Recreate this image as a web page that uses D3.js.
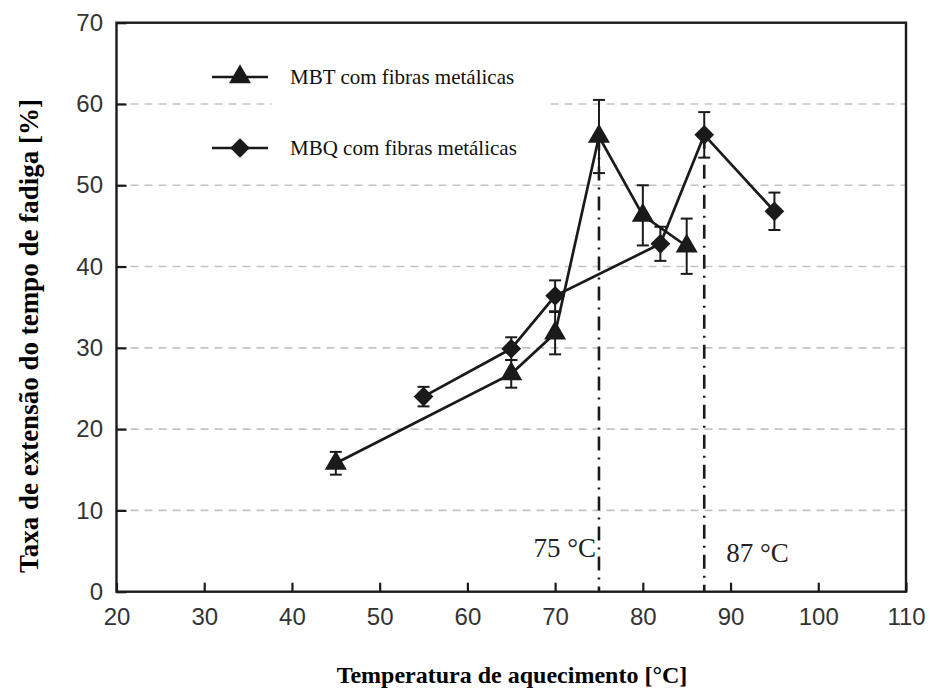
<!DOCTYPE html>
<html><head><meta charset="utf-8">
<script src="https://cdn.jsdelivr.net/npm/d3@7"></script>
<style>body{margin:0;background:#fff}</style>
</head><body>
<svg id="c" width="930" height="691"></svg>
<script>
const mbtTemp = [45, 65, 70, 75, 80, 85];
const mbtVal  = [15.8, 26.8, 31.8, 56.0, 46.3, 42.5];
const mbtErr  = [1.4, 1.7, 2.6, 4.5, 3.7, 3.4];
const mbqTemp = [55, 65, 70, 82, 87, 95];
const mbqVal  = [24.0, 29.9, 36.4, 42.8, 56.2, 46.8];
const mbqErr  = [1.2, 1.4, 1.9, 2.1, 2.8, 2.3];
const xTicks = [20, 30, 40, 50, 60, 70, 80, 90, 100, 110];
const yTicks = [0, 10, 20, 30, 40, 50, 60, 70];
const gridVals = [10, 20, 30, 40, 50, 60];
const markTemps = [75, 87];
const markVals = [56.0, 56.2];
const markLabels = ["75 °C", "87 °C"];
const seriesNames = ["MBT com fibras metálicas", "MBQ com fibras metálicas"];
const xTitle = "Temperatura de aquecimento [°C]";
const yTitle = "Taxa de extensão do tempo de fadiga [%]";

const svg = d3.select("#c");
const x = d3.scaleLinear().domain([20, 110]).range([116.5, 906]);
const y = d3.scaleLinear().domain([0, 70]).range([591.7, 22.7]);
const ink = "#1a1a1a";

// grid
svg.append("g").selectAll("line").data(gridVals).join("line")
  .attr("x1", x(20)).attr("x2", x(110)).attr("y1", d => y(d)).attr("y2", d => y(d))
  .attr("stroke", "#c4c4c4").attr("stroke-width", 1.6).attr("stroke-dasharray", "8,6");

// legend background covering grid
svg.append("rect").attr("x", 272).attr("y", 60).attr("width", 276).attr("height", 105).attr("fill", "#fff");

// marker lines
svg.append("g").selectAll("line").data(markTemps).join("line")
  .attr("x1", d => x(d)).attr("x2", d => x(d))
  .attr("y1", (d, i) => y(markVals[i])).attr("y2", y(0))
  .attr("stroke", ink).attr("stroke-width", 2.6).attr("stroke-dasharray", "14,7,2,7");

svg.append("g").selectAll("text").data(markLabels).join("text")
  .attr("x", (d, i) => i === 0 ? x(markTemps[i]) - 3 : x(markTemps[i]) + 22)
  .attr("y", (d, i) => i === 0 ? 557 : 562)
  .attr("text-anchor", (d, i) => i === 0 ? "end" : "start")
  .attr("font-family", "Liberation Serif").attr("font-size", 27).attr("fill", "#222")
  .text(d => d);

// axes
const xa = svg.append("g").attr("transform", `translate(0,${y(0)})`)
  .call(d3.axisBottom(x).tickValues(xTicks).tickSizeInner(-9).tickSizeOuter(0).tickPadding(16));
const ya = svg.append("g").attr("transform", `translate(${x(20)},0)`)
  .call(d3.axisLeft(y).tickValues(yTicks).tickSizeInner(-10).tickSizeOuter(0).tickPadding(13.5));
[xa, ya].forEach(a => {
  a.select(".domain").remove();
  a.selectAll("line").attr("stroke", ink).attr("stroke-width", 2.2);
  a.selectAll("text").attr("font-family", "Liberation Sans").attr("font-size", 24).attr("fill", "#333");
});

// frame
svg.append("rect").attr("x", x(20)).attr("y", y(70)).attr("width", x(110) - x(20)).attr("height", y(0) - y(70))
  .attr("fill", "none").attr("stroke", ink).attr("stroke-width", 2.4);

const tri = d3.symbol().type(d3.symbolTriangle).size(210);
const dia = d3.symbol().type(d3.symbolSquare).size(195);

function series(temps, vals, errs, shape, rot) {
  const pts = temps.map((t, i) => [t, vals[i], errs[i]]);
  const g = svg.append("g");
  g.append("path").datum(pts)
    .attr("d", d3.line().x(d => x(d[0])).y(d => y(d[1])))
    .attr("fill", "none").attr("stroke", ink).attr("stroke-width", 2.7);
  const eb = g.selectAll("g.eb").data(pts).join("g");
  eb.append("line").attr("x1", d => x(d[0])).attr("x2", d => x(d[0]))
    .attr("y1", d => y(d[1] - d[2])).attr("y2", d => y(d[1] + d[2]))
    .attr("stroke", ink).attr("stroke-width", 2);
  [-1, 1].forEach(s => {
    eb.append("line").attr("x1", d => x(d[0]) - 6).attr("x2", d => x(d[0]) + 6)
      .attr("y1", d => y(d[1] + s * d[2])).attr("y2", d => y(d[1] + s * d[2]))
      .attr("stroke", ink).attr("stroke-width", 2);
  });
  g.selectAll("path.m").data(pts).join("path").attr("class", "m")
    .attr("d", shape)
    .attr("transform", d => `translate(${x(d[0])},${y(d[1])}) rotate(${rot})`)
    .attr("fill", ink);
}
series(mbtTemp, mbtVal, mbtErr, tri, 0);
series(mbqTemp, mbqVal, mbqErr, dia, 45);

// legend
const legY = [77, 148];
const lg = svg.append("g");
legY.forEach((ly, i) => {
  lg.append("line").attr("x1", 212).attr("x2", 268).attr("y1", ly).attr("y2", ly)
    .attr("stroke", ink).attr("stroke-width", 2.7);
  lg.append("path").attr("d", i === 0 ? tri : dia)
    .attr("transform", `translate(240,${ly}) rotate(${i === 0 ? 0 : 45})`).attr("fill", ink);
  lg.append("text").attr("x", 290).attr("y", ly).attr("dy", "0.35em")
    .attr("font-family", "Liberation Serif").attr("font-size", 21).attr("fill", "#111")
    .text(seriesNames[i]);
});

// titles
svg.append("text").attr("x", 512).attr("y", 683).attr("text-anchor", "middle")
  .attr("font-family", "Liberation Serif").attr("font-weight", "bold").attr("font-size", 24).attr("fill", "#000")
  .text(xTitle);
svg.append("text").attr("transform", "translate(38,336) rotate(-90)").attr("text-anchor", "middle")
  .attr("font-family", "Liberation Serif").attr("font-weight", "bold").attr("font-size", 27).attr("fill", "#000")
  .text(yTitle);
</script>
</body></html>
